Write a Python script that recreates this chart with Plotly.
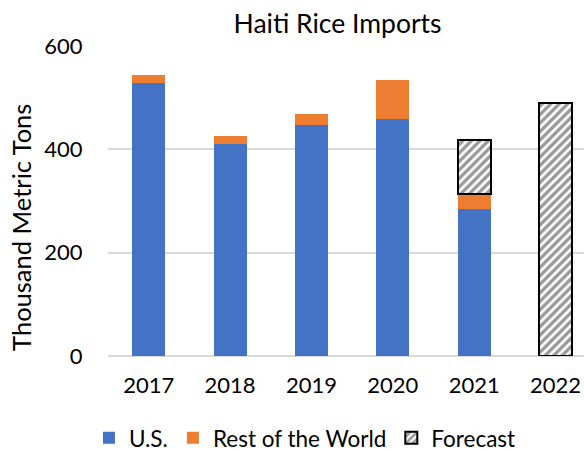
import plotly.graph_objects as go

years = ["2017", "2018", "2019", "2020", "2021", "2022"]
us = [529, 411, 448, 459, 284, None]
rest_of_world = [15, 15, 20, 76, 29, None]
forecast = [None, None, None, None, 106, 490]

font_family = "Lato, 'Open Sans', sans-serif"

fig = go.Figure()
fig.add_trace(go.Bar(x=years, y=us, name="U.S.", marker=dict(color="#4472C4", line=dict(width=0))))
fig.add_trace(go.Bar(x=years, y=rest_of_world, name="Rest of the World",
                     marker=dict(color="#ED7D31", line=dict(width=0))))
fig.add_trace(go.Bar(x=years, y=forecast, name="Forecast",
                     marker=dict(color="white", line=dict(color="black", width=2),
                                 pattern=dict(shape="/", fgcolor="#333333", bgcolor="white",
                                              size=6, solidity=0.55))))

fig.update_layout(
    width=584, height=451,
    barmode="stack", bargap=0.595,
    paper_bgcolor="white", plot_bgcolor="white",
    margin=dict(l=108, r=0, t=46, b=95, autoexpand=False),
    font=dict(family=font_family, size=22, color="black"),
    title=dict(text="Haiti Rice Imports", x=0.578, xanchor="center", y=0.947, yanchor="middle",
               font=dict(size=26.5, color="black")),
    showlegend=True,
    legend=dict(orientation="h", x=-0.04, xanchor="left", y=-0.265, yanchor="middle",
                font=dict(size=22.5), itemwidth=30, traceorder="normal"),
    xaxis=dict(range=[-0.5, 5.35], showgrid=False, showline=False, ticks="outside",
               ticklen=10, tickcolor="rgba(0,0,0,0)", tickfont=dict(size=22), automargin=False),
    yaxis=dict(range=[0, 600], tickvals=[0, 200, 400, 600], showgrid=True, gridcolor="#D9D9D9",
               gridwidth=1.5, zeroline=True, zerolinecolor="#D9D9D9", zerolinewidth=1.5,
               showline=False, ticks="outside", ticklen=20, tickcolor="rgba(0,0,0,0)",
               tickfont=dict(size=22), automargin=False),
    annotations=[dict(text="Thousand Metric Tons", textangle=-90, xref="paper", yref="paper",
                      x=-0.183, y=0.416, xanchor="center", yanchor="middle", showarrow=False,
                      font=dict(size=25.5))],
)

fig.write_html("out.html", config={"displayModeBar": False},
               post_script="document.body.style.margin='0';")
